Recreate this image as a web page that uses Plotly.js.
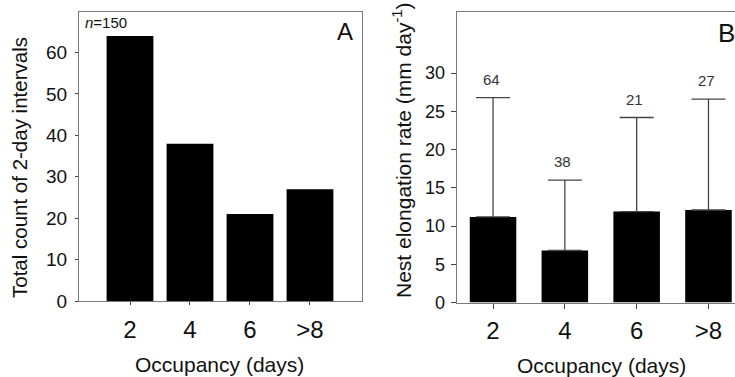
<!DOCTYPE html>
<html>
<head>
<meta charset="utf-8">
<script src="https://cdn.plot.ly/plotly-3.0.1.min.js"></script>
<style>
html, body { margin: 0; padding: 0; overflow: hidden; background: #fff; }
#chart { width: 745px; height: 377px; }
</style>
</head>
<body>
<div id="chart"></div>
<script>
// ---- data ----
const categories = ['2', '4', '6', '>8'];
const countValues = [64, 38, 21, 27];            // panel A
const rateMeans = [11.2, 6.8, 11.9, 12.1];        // panel B
const rateSD = [15.6, 9.2, 12.3, 14.5];           // upper error
const sampleLabels = ['64', '38', '21', '27'];

const W = 745, H = 377;
const FONT = 'Liberation Sans, Arial, Helvetica, sans-serif';
const TXT = '#111';
const FRAME = '#7a7a7a';

function px(x) { return x / W; }
function py(y) { return (H - y) / H; }

const traceA = {
  type: 'bar', x: categories, y: countValues,
  xaxis: 'x', yaxis: 'y', width: 0.78,
  marker: { color: '#000', line: { color: '#000', width: 0 } },
  hoverinfo: 'none'
};
const traceB = {
  type: 'bar', x: categories, y: rateMeans,
  xaxis: 'x2', yaxis: 'y2', width: 0.648,
  marker: { color: '#000', line: { color: '#000', width: 0 } },
  error_y: { type: 'data', symmetric: false, array: rateSD,
             arrayminus: rateSD.map(() => 0),
             color: '#444', thickness: 1.3, width: 17 },
  hoverinfo: 'none'
};

const axisCommon = {
  showgrid: false, zeroline: false, showline: true, mirror: true,
  linecolor: FRAME, linewidth: 1, ticks: 'outside', tickcolor: '#444',
  tickwidth: 1, fixedrange: true
};

const annotations = [];
// sample size labels on panel B (category index positions)
categories.forEach((c, i) => {
  annotations.push({
    x: i, y: rateMeans[i] + rateSD[i], xref: 'x2', yref: 'y2',
    text: sampleLabels[i], showarrow: false, yanchor: 'bottom',
    yshift: 8, xshift: -2, font: { family: FONT, size: 15, color: '#333' }
  });
});
annotations.push(
  { text: '<i>n</i>=150', xref: 'paper', yref: 'paper', x: px(83), y: py(23),
    xanchor: 'left', yanchor: 'middle', showarrow: false,
    font: { family: FONT, size: 15, color: TXT } },
  { text: 'A', xref: 'paper', yref: 'paper', x: px(345), y: py(31),
    xanchor: 'center', yanchor: 'middle', showarrow: false,
    font: { family: FONT, size: 24, color: TXT } },
  { text: 'B', xref: 'paper', yref: 'paper', x: px(716), y: py(33),
    xanchor: 'left', yanchor: 'middle', showarrow: false,
    font: { family: FONT, size: 26, color: TXT } },
  { text: 'Total count of 2-day intervals', xref: 'paper', yref: 'paper',
    x: px(20), y: py(168), textangle: -90, xanchor: 'center', yanchor: 'middle',
    showarrow: false, font: { family: FONT, size: 20.5, color: TXT } },
  { text: 'Nest elongation rate (mm day<sup>-1</sup>)', xref: 'paper', yref: 'paper',
    x: px(402), y: py(150), textangle: -90, xanchor: 'center', yanchor: 'middle',
    showarrow: false, font: { family: FONT, size: 21, color: TXT } },
  { text: 'Occupancy (days)', xref: 'paper', yref: 'paper',
    x: px(219), y: py(364), xanchor: 'center', yanchor: 'middle',
    showarrow: false, font: { family: FONT, size: 21, color: TXT } },
  { text: 'Occupancy (days)', xref: 'paper', yref: 'paper',
    x: px(601), y: py(365), xanchor: 'center', yanchor: 'middle',
    showarrow: false, font: { family: FONT, size: 21, color: TXT } }
);

const layout = {
  width: W, height: H,
  margin: { l: 0, r: 0, t: 0, b: 0 },
  paper_bgcolor: '#fff', plot_bgcolor: '#fff',
  showlegend: false,
  font: { family: FONT, color: TXT },
  xaxis: Object.assign({}, axisCommon, {
    domain: [px(79), px(362)], anchor: 'y', type: 'category',
    range: [-0.85, 3.867], ticklen: 3,
    tickfont: { family: FONT, size: 24, color: TXT }, ticklabelstandoff: 4
  }),
  yaxis: Object.assign({}, axisCommon, {
    domain: [py(301), py(12)], anchor: 'x', range: [0, 69.8],
    tickvals: [0, 10, 20, 30, 40, 50, 60], ticklen: 3,
    tickfont: { family: FONT, size: 19, color: TXT }, ticklabelstandoff: 4
  }),
  xaxis2: Object.assign({}, axisCommon, {
    domain: [px(456.7), px(742)], anchor: 'y2', type: 'category',
    range: [-0.506, 3.467], ticklen: 5,
    tickfont: { family: FONT, size: 24, color: TXT }, ticklabelstandoff: 2
  }),
  yaxis2: Object.assign({}, axisCommon, {
    domain: [py(302.5), py(12)], anchor: 'x2', range: [0, 38],
    tickvals: [0, 5, 10, 15, 20, 25, 30], ticklen: 5,
    tickfont: { family: FONT, size: 18, color: TXT }, ticklabelstandoff: 2
  }),
  annotations: annotations
};

Plotly.newPlot('chart', [traceA, traceB], layout, { displayModeBar: false, staticPlot: true });
</script>
</body>
</html>
